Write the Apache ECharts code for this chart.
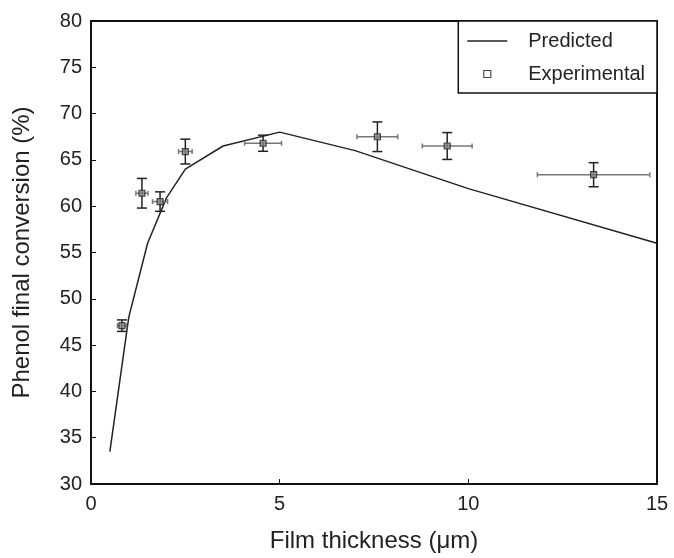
<!DOCTYPE html>
<html>
<head>
<meta charset="utf-8">
<script src="https://cdn.jsdelivr.net/npm/echarts@6/dist/echarts.min.js"></script>
<style>
    html, body { margin: 0; padding: 0; background: #fff; }
    #main { width: 674px; height: 558px; }
</style>
</head>
<body>
<div id="main"></div>
<script type="text/javascript">
    // 模型预测曲线
    const predX = [0.5, 1.0, 1.5, 2.0, 2.5, 3.5, 5.0, 7.0, 10.0, 15.0];
    const predY = [33.5, 48.0, 56.0, 60.9, 64.0, 66.5, 68.0, 66.0, 61.9, 56.0];
    // 实验数据及误差
    const expX = [0.82, 1.35, 1.83, 2.50, 4.56, 7.59, 9.44, 13.32];
    const expY = [47.1, 61.4, 60.5, 65.9, 66.8, 67.5, 66.5, 63.4];
    const expXErr = [0.12, 0.16, 0.2, 0.18, 0.49, 0.54, 0.66, 1.49];
    const expYErr = [0.62, 1.6, 1.05, 1.34, 0.87, 1.6, 1.45, 1.3];

    const font = 'Liberation Sans, Arial, sans-serif';

    let lineData = predX.map((x, i) => [x, predY[i]]);
    let expData = expX.map((x, i) => [x, expY[i], expXErr[i], expYErr[i]]);

    // 误差棒
    function renderErr(params, api) {
        const x = api.value(0), y = api.value(1);
        const ex = api.value(2), ey = api.value(3);
        const l = api.coord([x - ex, y]), r = api.coord([x + ex, y]);
        const t = api.coord([x, y + ey]), b = api.coord([x, y - ey]);
        const gray = {stroke: '#777', lineWidth: 1.5};
        const dark = {stroke: '#222', lineWidth: 1.5};
        return {
            type: 'group',
            children: [
                {type: 'line', shape: {x1: l[0], y1: l[1], x2: r[0], y2: r[1]}, style: gray},
                {type: 'line', shape: {x1: l[0], y1: l[1] - 2.5, x2: l[0], y2: l[1] + 2.5}, style: gray},
                {type: 'line', shape: {x1: r[0], y1: r[1] - 2.5, x2: r[0], y2: r[1] + 2.5}, style: gray},
                {type: 'line', shape: {x1: t[0], y1: t[1], x2: b[0], y2: b[1]}, style: dark},
                {type: 'line', shape: {x1: t[0] - 5, y1: t[1], x2: t[0] + 5, y2: t[1]}, style: dark},
                {type: 'line', shape: {x1: b[0] - 5, y1: b[1], x2: b[0] + 5, y2: b[1]}, style: dark}
            ]
        };
    }

    let myChart = echarts.init(document.getElementById('main'));
    let option = {
        animation: false,
        backgroundColor: '#fff',
        textStyle: {fontFamily: font},
        grid: {
            left: 91, right: 17, top: 21, bottom: 71,
            show: true, borderColor: '#111', borderWidth: 2
        },
        legend: {
            right: 17, top: 21,
            orient: 'vertical',
            backgroundColor: '#fff',
            borderColor: '#111', borderWidth: 1.5, borderRadius: 0,
            padding: [10, 12, 9, 9],
            itemWidth: 40, itemHeight: 7, itemGap: 13,
            textStyle: {fontSize: 20, color: '#222', fontFamily: font, padding: [0, 0, 0, 16]},
            data: [
                {name: 'Predicted', icon: 'path://M0,0H40V1.4H0Z', itemStyle: {color: '#222'}},
                {name: 'Experimental', icon: 'path://M0,0H1V1H0Z', itemStyle: {color: '#fff', borderColor: '#222', borderWidth: 1.2}}
            ]
        },
        xAxis: {
            type: 'value', min: 0, max: 15, interval: 5,
            name: 'Film thickness (μm)', nameLocation: 'middle', nameGap: 45,
            nameTextStyle: {fontSize: 24, color: '#222', fontFamily: font},
            axisLine: {lineStyle: {color: '#111', width: 2}},
            axisTick: {inside: true, length: 5, lineStyle: {color: '#111'}},
            axisLabel: {fontSize: 20, color: '#222', margin: 10, fontFamily: font},
            splitLine: {show: false}
        },
        yAxis: {
            type: 'value', min: 30, max: 80, interval: 5,
            name: 'Phenol final conversion (%)', nameLocation: 'middle', nameGap: 57,
            nameTextStyle: {fontSize: 24, color: '#222', fontFamily: font},
            axisLine: {lineStyle: {color: '#111', width: 2}},
            axisTick: {inside: true, length: 5, lineStyle: {color: '#111'}},
            axisLabel: {fontSize: 20, color: '#222', margin: 9, fontFamily: font},
            splitLine: {show: false}
        },
        series: [
            {
                name: 'Predicted', type: 'line', data: lineData,
                showSymbol: false, symbol: 'none',
                lineStyle: {color: '#222', width: 1.5},
                z: 2
            },
            {
                name: 'Experimental-err', type: 'custom', data: expData,
                renderItem: renderErr, z: 3
            },
            {
                name: 'Experimental', type: 'scatter', data: expData,
                symbol: 'rect', symbolSize: 6,
                itemStyle: {color: '#888', borderColor: '#222', borderWidth: 1.2},
                z: 4
            }
        ]
    };
    myChart.setOption(option);
</script>
</body>
</html>
